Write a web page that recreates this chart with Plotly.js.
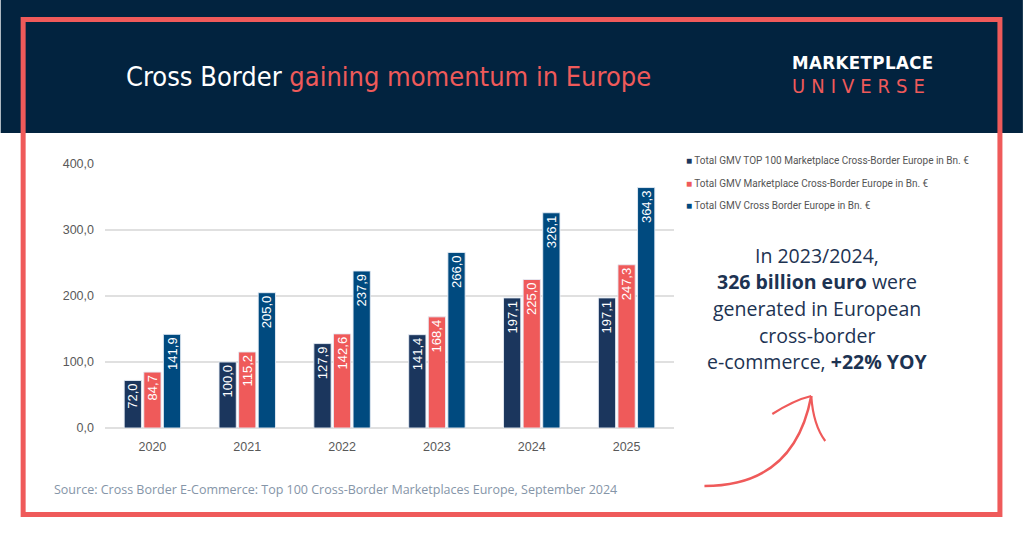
<!DOCTYPE html>
<html>
<head>
<meta charset="utf-8">
<script src="https://cdn.plot.ly/plotly-3.0.1.min.js"></script>
<style>html,body{margin:0;padding:0;background:#fff;}#chart{width:1024px;height:535px;}</style>
</head>
<body>
<div id="chart"></div>
<script>
// ---- data ----
const years = ['2020', '2021', '2022', '2023', '2024', '2025'];
const top100Marketplace = [72.0, 100.0, 127.9, 141.4, 197.1, 197.1];
const marketplaceCrossBorder = [84.7, 115.2, 142.6, 168.4, 225.0, 247.3];
const totalCrossBorder = [141.9, 205.0, 237.9, 266.0, 326.1, 364.3];
const seriesNames = [
  'Total GMV TOP 100 Marketplace Cross-Border Europe in Bn. €',
  'Total GMV Marketplace Cross-Border Europe in Bn. €',
  'Total GMV Cross Border Europe in Bn. €'
];
const yTicks = [0, 100, 200, 300, 400];
const calloutLines = [
  'In 2023/2024,',
  '<b>326 billion euro</b> were',
  'generated in European',
  'cross-border',
  'e-commerce, <b>+22% YOY</b>'
];
const sourceText = 'Source: Cross Border E-Commerce: Top 100 Cross-Border Marketplaces Europe, September 2024';

// ---- style ----
const colors = ['#1B365D', '#EF5A5A', '#004A7F'];
const navy = '#02233F';
const red = '#EF5A5A';
const condensed = 'DejaVu Sans Condensed, Liberation Sans Narrow, sans-serif';

// plot area in pixels
const L = 104.5, R = 674.5, T = 164, B = 428;
const px = x => (x - L) / (R - L);
const py = y => (B - y) / (B - T);

const seriesValues = [top100Marketplace, marketplaceCrossBorder, totalCrossBorder];
const traces = seriesValues.map((vals, i) => ({
  type: 'bar',
  name: seriesNames[i],
  x: years,
  y: vals,
  marker: {color: colors[i], line: {color: 'rgba(230,236,245,0.9)', width: 1}},
  texttemplate: '%{y:.1f}',
  textposition: 'inside',
  insidetextanchor: 'end',
  textangle: -90,
  constraintext: 'none',
  textfont: {family: 'Liberation Sans, Arial, sans-serif', size: 13, color: '#FFFFFF'},
  hoverinfo: 'x+y',
  showlegend: false
}));

const annotations = [];
// title
annotations.push({
  xref: 'paper', yref: 'paper', x: px(388.5), y: py(76), xanchor: 'center', yanchor: 'middle',
  showarrow: false,
  text: '<span style="font-stretch:condensed">Cross Border </span><span style="font-stretch:condensed;color:' + red + '">gaining momentum in Europe</span>',
  font: {family: condensed, size: 27, color: '#FFFFFF'}
});
// logo
annotations.push({
  xref: 'paper', yref: 'paper', x: px(791), y: py(62.5), xanchor: 'left', yanchor: 'middle',
  showarrow: false,
  text: '<span style="font-stretch:condensed;letter-spacing:0.4px">MARKETPLACE</span>',
  font: {family: condensed, size: 18.5, weight: 600, color: '#FFFFFF'}
});
annotations.push({
  xref: 'paper', yref: 'paper', x: px(791), y: py(85.5), xanchor: 'left', yanchor: 'middle',
  showarrow: false,
  text: '<span style="font-stretch:condensed;letter-spacing:6px">UNIVERSE</span>',
  font: {family: condensed, size: 20, color: red}
});
// legend (drawn as text)
seriesNames.forEach((n, i) => {
  annotations.push({
    xref: 'paper', yref: 'paper', x: px(685), y: py(161 + 22 * i), xanchor: 'left', yanchor: 'middle',
    showarrow: false,
    text: '<span style="color:' + colors[i] + '">■</span> ' + n,
    font: {family: 'Roboto, Liberation Sans, sans-serif', size: 10, color: '#555555'}
  });
});
// callout
calloutLines.forEach((t, i) => {
  annotations.push({
    xref: 'paper', yref: 'paper', x: px(818), y: py(255 + 26.7 * i), xanchor: 'center', yanchor: 'middle',
    showarrow: false, text: t,
    font: {family: 'Open Sans, sans-serif', size: 19.5, color: '#1D3352'}
  });
});
// source
annotations.push({
  xref: 'paper', yref: 'paper', x: px(51), y: py(489), xanchor: 'left', yanchor: 'middle',
  showarrow: false, text: sourceText,
  font: {family: 'Open Sans, sans-serif', size: 12.5, color: '#8595A8'}
});

function pth(cmds) {
  return cmds.map(c => c[0] + ' ' + c.slice(1).map((v, k) => (k % 2 === 0 ? px(v) : py(v)).toFixed(4)).join(' ')).join(' ');
}

const shapes = [
  {type: 'rect', xref: 'paper', yref: 'paper', x0: px(0), x1: px(1024), y0: py(0), y1: py(133),
   fillcolor: navy, line: {width: 0}, layer: 'below'},
  {type: 'rect', xref: 'paper', yref: 'paper', x0: px(22.5), x1: px(1001), y0: py(19.5), y1: py(514.5),
   fillcolor: 'rgba(0,0,0,0)', line: {color: red, width: 5}, layer: 'above'},
  {type: 'path', xref: 'paper', yref: 'paper', layer: 'above',
   path: pth([['M', 705, 486], ['Q', 795, 486, 812, 396]]), line: {color: red, width: 2.5}},
  {type: 'path', xref: 'paper', yref: 'paper', layer: 'above',
   path: pth([['M', 773, 414], ['Q', 795, 400, 812, 396]]), line: {color: red, width: 2.2}},
  {type: 'path', xref: 'paper', yref: 'paper', layer: 'above',
   path: pth([['M', 812, 396], ['Q', 814, 425, 826, 441]]), line: {color: red, width: 2.2}}
];

const layout = {
  width: 1024, height: 535,
  margin: {l: L, r: 1024 - R, t: T, b: 535 - B, pad: 0},
  paper_bgcolor: '#FFFFFF', plot_bgcolor: '#FFFFFF',
  separators: ',.',
  barmode: 'group', bargap: 0.38, bargroupgap: 0.12,
  showlegend: false,
  xaxis: {type: 'category', showgrid: false, showline: false, zeroline: false, ticks: '',
          tickfont: {family: 'Liberation Sans, Arial, sans-serif', size: 12.5, color: '#595959'},
          ticklabelstandoff: 9, fixedrange: true},
  yaxis: {range: [0, 400], tickvals: yTicks, tickformat: '.1f', showgrid: true,
          gridcolor: '#E0E0E0', gridwidth: 1.5, zeroline: true, zerolinecolor: '#E0E0E0', zerolinewidth: 1.5,
          showline: false, ticks: '',
          tickfont: {family: 'Liberation Sans, Arial, sans-serif', size: 12.5, color: '#595959'},
          ticklabelstandoff: 10, fixedrange: true},
  annotations: annotations,
  shapes: shapes,
  font: {family: 'Liberation Sans, Arial, sans-serif'}
};

Plotly.newPlot('chart', traces, layout, {displayModeBar: false, staticPlot: true});
</script>
</body>
</html>
